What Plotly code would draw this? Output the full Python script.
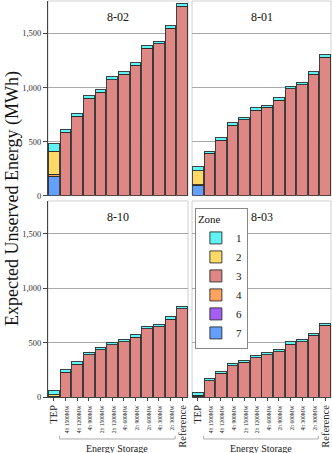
import plotly.graph_objects as go

categories = ["TEP", "4h 1500MW", "4h 1200MW", "4h 900MW", "2h 1500MW", "2h 1200MW",
              "4h 600MW", "2h 900MW", "2h 600MW", "4h 300MW", "2h 300MW", "Reference"]
panels = ["8-02", "8-01", "8-10", "8-03"]
zones = ["7", "6", "4", "3", "2", "1"]  # stacking order bottom -> top
zone_colors = {"1": "#5ff3f3", "2": "#ffd966", "3": "#de8784", "4": "#ffa35f",
               "6": "#a55ef5", "7": "#62a0fb"}

z7_802 = [180, 0, 0, 0, 0, 0, 0, 0, 0, 0, 0, 0]
z6_802 = [0] * 12
z4_802 = [20, 0, 0, 0, 0, 0, 0, 0, 0, 0, 0, 0]
z3_802 = [0, 589, 736, 899, 957, 1073, 1122, 1205, 1362, 1405, 1549, 1751]
z2_802 = [210, 0, 0, 0, 0, 0, 0, 0, 0, 0, 0, 0]
z1_802 = [72, 26, 25, 27, 24, 28, 22, 25, 30, 24, 24, 28]

z7_801 = [98, 0, 0, 0, 0, 0, 0, 0, 0, 0, 0, 0]
z6_801 = [0] * 12
z4_801 = [4, 0, 0, 0, 0, 0, 0, 0, 0, 0, 0, 0]
z3_801 = [0, 393, 512, 653, 702, 788, 818, 883, 991, 1027, 1122, 1279]
z2_801 = [131, 0, 0, 0, 0, 0, 0, 0, 0, 0, 0, 0]
z1_801 = [37, 18, 22, 21, 22, 24, 19, 22, 21, 22, 24, 24]

z7_810 = [0] * 12
z6_810 = [0] * 12
z4_810 = [0] * 12
z3_810 = [6, 228, 302, 389, 435, 478, 509, 549, 627, 645, 716, 809]
z2_810 = [14, 0, 0, 0, 0, 0, 0, 0, 0, 0, 0, 0]
z1_810 = [40, 22, 22, 21, 22, 25, 22, 25, 24, 22, 25, 24]

z7_803 = [0] * 12
z6_803 = [0] * 12
z4_803 = [0] * 12
z3_803 = [5, 151, 216, 287, 318, 361, 389, 417, 485, 509, 565, 657]
z2_803 = [12, 0, 0, 0, 0, 0, 0, 0, 0, 0, 0, 0]
z1_803 = [25, 19, 15, 22, 18, 22, 18, 21, 21, 22, 18, 22]

data = {
    "8-02": {"7": z7_802, "6": z6_802, "4": z4_802, "3": z3_802, "2": z2_802, "1": z1_802},
    "8-01": {"7": z7_801, "6": z6_801, "4": z4_801, "3": z3_801, "2": z2_801, "1": z1_801},
    "8-10": {"7": z7_810, "6": z6_810, "4": z4_810, "3": z3_810, "2": z2_810, "1": z1_810},
    "8-03": {"7": z7_803, "6": z6_803, "4": z4_803, "3": z3_803, "2": z2_803, "1": z1_803},
}

FONT = "Liberation Serif, Times New Roman, Times, serif"
small = "<span style='font-size:5.5px'>%s</span>"
ticktext = [c if c in ("TEP", "Reference") else small % c for c in categories]

fig = go.Figure()
axis_ids = ["", "2", "3", "4"]
for i, p in enumerate(panels):
    for z in zones:
        fig.add_trace(go.Bar(
            x=categories, y=data[p][z], name=z, legendgroup=z,
            showlegend=(i == 0),
            marker=dict(color=zone_colors[z], line=dict(color="rgba(45,45,45,0.9)", width=1)),
            xaxis="x" + axis_ids[i], yaxis="y" + axis_ids[i],
        ))

xd_left = [0, 0.4947]
xd_right = [0.509, 1]
yd_top = [0.5083, 1]
yd_bot = [0, 0.495]
YR = [0, 1800]

def xax(domain, anchor, show):
    return dict(domain=domain, anchor=anchor, type="category", automargin=False,
                categoryorder="array", categoryarray=categories,
                range=[-0.5, 11.5],
                showgrid=False, showline=show, linecolor="#444", linewidth=1,
                ticks="outside" if show else "", ticklen=3, tickcolor="#444",
                showticklabels=show, tickangle=-90,
                tickvals=categories, ticktext=ticktext,
                tickfont=dict(family=FONT, size=10.5, color="#222"))

def yax(domain, anchor, left):
    return dict(domain=domain, anchor=anchor, range=YR, showgrid=True, automargin=False,
                gridcolor="#a8a8a8", gridwidth=1, zeroline=False,
                tickvals=[0, 500, 1000, 1500], tickformat=",",
                showline=left, linecolor="#444", linewidth=1,
                ticks="outside" if left else "", ticklen=4, tickcolor="#444",
                showticklabels=left, tickfont=dict(family=FONT, size=8.5, color="#333"))

fig.update_layout(
    xaxis=xax(xd_left, "y", False),
    xaxis2=xax(xd_right, "y2", False),
    xaxis3=xax(xd_left, "y3", True),
    xaxis4=xax(xd_right, "y4", True),
    yaxis=yax(yd_top, "x", True),
    yaxis2=yax(yd_top, "x2", False),
    yaxis3=yax(yd_bot, "x3", True),
    yaxis4=yax(yd_bot, "x4", False),
)

shapes = []
for ax in axis_ids:
    shapes.append(dict(type="rect", xref="x%s domain" % ax, yref="y%s domain" % ax,
                       x0=0, x1=1, y0=0, y1=1, line=dict(color="#d0d0d0", width=1),
                       layer="below"))
annotations = []
for i, p in enumerate(panels):
    ax = axis_ids[i]
    annotations.append(dict(text=p, xref="x%s domain" % ax, yref="y%s domain" % ax,
                            x=0.5, y=0.965, xanchor="center", yanchor="top", showarrow=False,
                            font=dict(family=FONT, size=12, color="#111")))

# Energy Storage group brackets under bottom panels
for ax in ["3", "4"]:
    yb = -0.106
    h = 0.008
    shapes.append(dict(type="line", xref="x" + ax, yref="paper", x0=0.5, x1=10.4, y0=yb, y1=yb,
                       line=dict(color="#aaaaaa", width=1)))
    shapes.append(dict(type="line", xref="x" + ax, yref="paper", x0=0.5, x1=0.5, y0=yb, y1=yb + h,
                       line=dict(color="#aaaaaa", width=1)))
    shapes.append(dict(type="line", xref="x" + ax, yref="paper", x0=10.4, x1=10.4, y0=yb, y1=yb + h,
                       line=dict(color="#aaaaaa", width=1)))
    annotations.append(dict(text="Energy Storage", xref="x" + ax, yref="paper", x=5.45, y=-0.112,
                            xanchor="center", yanchor="top", showarrow=False,
                            font=dict(family=FONT, size=10, color="#222")))

annotations.append(dict(text="Expected Unserved Energy (MWh)", xref="paper", yref="paper",
                        x=-0.127, y=0.5, xanchor="center", yanchor="middle", textangle=-90,
                        showarrow=False, font=dict(family=FONT, size=18, color="#111")))

fig.update_layout(
    shapes=shapes, annotations=annotations,
    barmode="stack", bargap=0.08,
    width=332, height=453,
    margin=dict(l=48, r=1, t=1, b=56, autoexpand=False),
    paper_bgcolor="white", plot_bgcolor="white",
    font=dict(family=FONT, color="#111"),
    hovermode=False,
    legend=dict(x=0.519, y=0.477, xanchor="left", yanchor="top",
                traceorder="reversed", bgcolor="white", bordercolor="#888", borderwidth=1,
                title=dict(text="Zone", font=dict(family=FONT, size=11, color="#111")),
                font=dict(family=FONT, size=11, color="#111"), itemwidth=30, tracegroupgap=0),
)

fig.write_html("out.html",
               config={"displayModeBar": False, "staticPlot": True},
               post_script="document.body.style.margin='0';document.body.style.padding='0';"
                           "document.body.style.overflow='hidden';")
